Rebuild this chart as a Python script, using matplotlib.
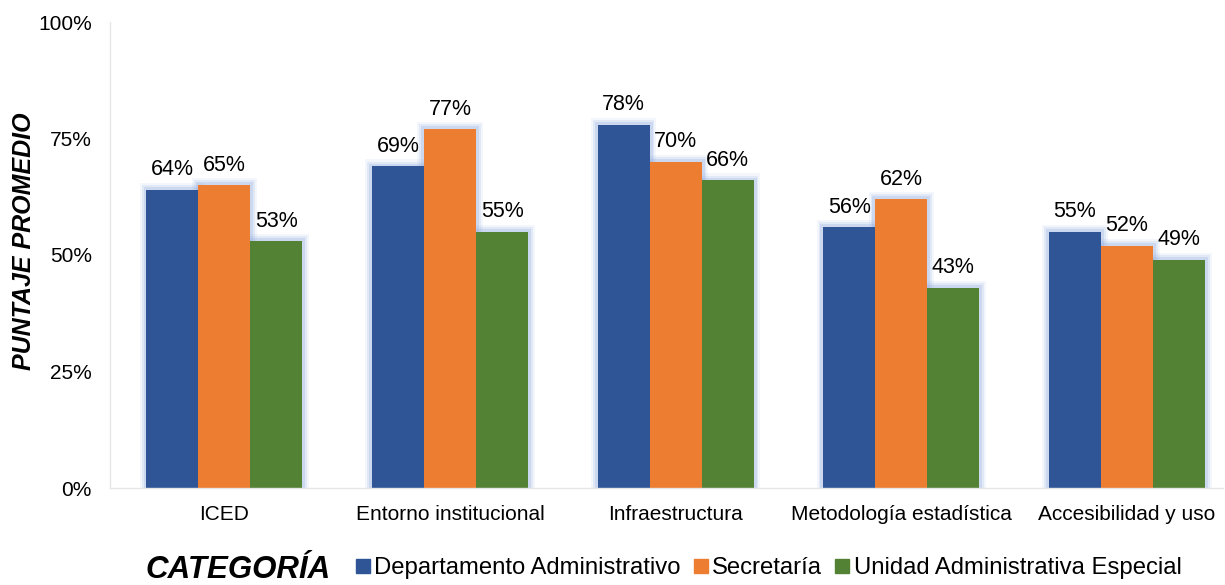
import numpy as np
import matplotlib.pyplot as plt
from matplotlib.lines import Line2D

plt.rcParams['font.family'] = ['Liberation Sans', 'DejaVu Sans']

categorias = ['ICED', 'Entorno institucional', 'Infraestructura',
              'Metodología estadística', 'Accesibilidad y uso']
series = ['Departamento Administrativo', 'Secretaría',
          'Unidad Administrativa Especial']
depto = [64, 69, 78, 56, 55]
secretaria = [65, 77, 70, 62, 52]
unidad = [53, 55, 66, 43, 49]
colores = ['#2F5597', '#ED7D31', '#548235']

fig = plt.figure(figsize=(12.25, 5.85), dpi=100)
ax = fig.add_axes([110 / 1225, 97 / 585, 1113 / 1225, 466 / 585])

x = np.arange(len(categorias))
w = 0.2305

# soft blue halo behind every bar
for i, vals in enumerate([depto, secretaria, unidad]):
    pos = x + (i - 1) * w
    for k, a in [(0.06, 0.10), (0.042, 0.16), (0.025, 0.26)]:
        ax.bar(pos, np.array(vals) + k * 25, width=w + k, color='#8faadc',
               alpha=a, zorder=1, linewidth=0)

for i, (vals, col) in enumerate(zip([depto, secretaria, unidad], colores)):
    pos = x + (i - 1) * w
    ax.bar(pos, vals, width=w, color=col, zorder=2, linewidth=0)
    for p, v in zip(pos, vals):
        ax.text(p, v + 2.0, f'{v}%', ha='center', va='bottom', fontsize=15.5,
                color='#000000', zorder=5)

ax.set_xlim(-0.5075, 4.426)
ax.set_ylim(0, 100)
ax.set_yticks([0, 25, 50, 75, 100])
ax.set_yticklabels(['0%', '25%', '50%', '75%', '100%'], fontsize=15)
ax.set_xticks(x)
ax.set_xticklabels(categorias, fontsize=15)
ax.tick_params(axis='x', length=0, pad=12)
ax.tick_params(axis='y', length=0, pad=13)
for s in ['top', 'right']:
    ax.spines[s].set_visible(False)
for s in ['left', 'bottom']:
    ax.spines[s].set_color('#e6e6e6')
    ax.spines[s].set_linewidth(1)

fig.text(24 / 1225, 1 - 241 / 585, 'PUNTAJE PROMEDIO', fontsize=18,
         fontweight='bold', fontstyle='italic', rotation=90,
         ha='center', va='center')

fig.text(145 / 1225, 1 - 570 / 585, 'CATEGORÍA', fontsize=22.5,
         fontweight='bold', fontstyle='italic', va='center', ha='left')

handles = [Line2D([], [], marker='s', linestyle='none', markersize=10,
                  markerfacecolor=c, markeredgecolor=c) for c in colores]
fig.legend(handles, series, loc='center left', ncol=3, frameon=False,
           bbox_to_anchor=(345 / 1225, 1 - 568 / 585), fontsize=17.2,
           handlelength=0.7, handletextpad=0.12, columnspacing=0.5,
           borderaxespad=0)

fig.savefig('out.png', dpi=100)
